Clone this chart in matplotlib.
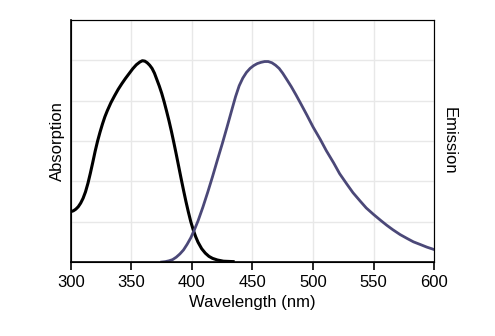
import matplotlib
matplotlib.use('Agg')
import matplotlib.pyplot as plt

# absorption spectrum (arb. units)
abs_nm = [300, 302, 304, 306, 308, 310, 312, 314, 316, 318, 320, 322, 324, 326, 328,
          330, 333, 336, 339, 342, 345, 348, 351, 354, 357, 359, 361, 363, 365, 367,
          369, 371, 373, 375, 377, 379, 381, 383, 385, 387, 389, 391, 393, 395, 397,
          399, 401, 403, 405, 408, 411, 414, 417, 421, 426, 434]
abs_val = [1.25, 1.27, 1.31, 1.37, 1.46, 1.58, 1.74, 1.95, 2.2, 2.47, 2.75, 3.0, 3.22, 3.42, 3.6,
           3.75, 3.95, 4.12, 4.28, 4.42, 4.55, 4.67, 4.79, 4.89, 4.96, 4.99, 4.98, 4.94, 4.88, 4.8,
           4.68, 4.52, 4.36, 4.18, 3.97, 3.74, 3.5, 3.24, 2.96, 2.67, 2.37, 2.07, 1.78, 1.5, 1.24,
           1.0, 0.8, 0.63, 0.49, 0.33, 0.22, 0.14, 0.09, 0.05, 0.02, 0.01]

# emission spectrum (arb. units)
em_nm = [375, 378, 381, 384, 387, 390, 393, 396, 399, 402, 405, 409, 413, 417, 421,
         425, 429, 433, 436, 439, 442, 445, 448, 451, 454, 457, 460, 463, 466, 469,
         472, 475, 478, 482, 486, 490, 495, 500, 506, 511, 517, 522, 528, 533, 539,
         544, 550, 556, 561, 566, 572, 578, 583, 589, 594, 600]
em_val = [0.0, 0.01, 0.03, 0.06, 0.12, 0.2, 0.3, 0.44, 0.6, 0.8, 1.02, 1.36, 1.73, 2.12, 2.53,
          2.93, 3.35, 3.78, 4.1, 4.37, 4.56, 4.7, 4.8, 4.87, 4.92, 4.95, 4.97, 4.97, 4.94, 4.88,
          4.8, 4.68, 4.54, 4.35, 4.14, 3.92, 3.64, 3.35, 3.04, 2.76, 2.46, 2.19, 1.93, 1.72, 1.51,
          1.34, 1.18, 1.03, 0.91, 0.8, 0.68, 0.58, 0.5, 0.43, 0.37, 0.31]

xticks = [300, 350, 400, 450, 500, 550, 600]

plt.rcParams['font.family'] = ['Liberation Sans', 'DejaVu Sans']

fig = plt.figure(figsize=(4.95, 3.36), dpi=100)
ax = fig.add_axes([0.1434, 0.2202, 0.7334, 0.7203])

ax.grid(True, color='#e8e8e8', linewidth=1)
ax.set_axisbelow(True)
ax.plot(abs_nm, abs_val, color='black', linewidth=2.2, solid_joinstyle='round')
ax.plot(em_nm, em_val, color='#4b4878', linewidth=2.0, solid_joinstyle='round')

ax.set_xlim(300, 600)
ax.set_ylim(0, 6)
ax.set_xticks(xticks)
ax.set_yticks(range(0, 7))
ax.tick_params(axis='y', length=0, labelleft=False)
ax.tick_params(axis='x', length=6, width=1.2, labelsize=12, pad=3)

for side in ['top', 'right']:
    ax.spines[side].set_color('#333333')
for side in ['left', 'bottom']:
    ax.spines[side].set_color('black')
    ax.spines[side].set_linewidth(1.2)

ax.set_xlabel('Wavelength (nm)', fontsize=12, labelpad=4)
ax.set_ylabel('Absorption', fontsize=12, labelpad=4)
ax2 = ax.twinx()
ax2.set_yticks([])
ax2.set_ylabel('Emission', fontsize=12, rotation=-90, labelpad=16)

fig.savefig('out.png', dpi=100)
